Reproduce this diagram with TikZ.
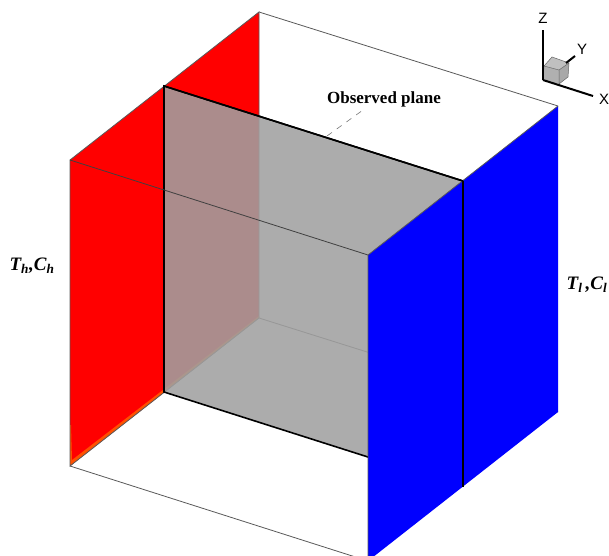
\documentclass[tikz,border=0pt]{standalone}
\usepackage{xcolor}
\usepackage{fontspec}
\setmainfont{Liberation Serif}
\setsansfont{Liberation Sans}
\usetikzlibrary{positioning}
\definecolor{wallhot}{RGB}{255,0,0}
\definecolor{wallcold}{RGB}{0,0,255}
\definecolor{wallband}{RGB}{255,80,0}
\definecolor{planegray}{RGB}{160,160,160}
\definecolor{cubetop}{RGB}{192,192,192}
\definecolor{cubeleft}{RGB}{176,176,176}
\definecolor{cuberight}{RGB}{168,168,168}

\begin{document}
\begin{tikzpicture}[
    x=1pt, y=-1pt,
    wire/.style={draw=black!65, line width=0.8pt},
    planeline/.style={draw=black, line width=1.6pt},
    leader/.style={draw=black!55, line width=0.6pt, dash pattern=on 6pt off 6pt},
    axis/.style={draw=black, line width=2pt},
    axislabel/.style={font=\sffamily\fontsize{15}{15}\selectfont, inner sep=0pt},
    walllabel/.style={font=\bfseries\itshape\fontsize{19}{19}\selectfont, inner sep=0pt}
]
\clip (0,0) rectangle (609,555);

% Cube corners
\coordinate (ftl) at (70,160);
\coordinate (btl) at (259,12);
\coordinate (bbl) at (259,318);
\coordinate (fbl) at (70,466);
\coordinate (ftr) at (368,255);
\coordinate (btr) at (558,106);
\coordinate (bbr) at (558,412);
\coordinate (fbr) at (368,561);

% Plane corners
\coordinate (ptl) at (164,86);
\coordinate (ptr) at (463,181);
\coordinate (pbr) at (463,487);
\coordinate (pbl) at (164,392);
\coordinate (pfb) at (368,457);
\coordinate (pmark) at (327,136);

% Hot wall
\fill[wallhot] (ftl) -- (btl) -- (bbl) -- (fbl) -- cycle;
\fill[wallband] (fbl) -- (bbl) -- (259,316) -- (72,460) -- (71,425) -- (70,425) -- cycle;

% Wire frame
\draw[wire] (fbl) -- (ftl) -- (btl) -- (bbl) -- cycle;
\draw[wire] (btl) -- (btr);
\draw[wire] (bbl) -- (bbr);
\draw[wire] (fbl) -- (fbr);

% Observed plane
\fill[planegray, fill opacity=0.88] (ptl) -- (ptr) -- (pbr) -- (pbl) -- cycle;
\draw[planeline] (ptr) -- (ptl) -- (pbl) -- (pfb);
\draw[wire, draw=black!75] (ftl) -- (ftr);

% Cold wall
\fill[wallcold] (ftr) -- (btr) -- (bbr) -- (fbr) -- cycle;
\draw[wire] (fbr) -- (ftr) -- (btr);
\draw[planeline] (ptr) -- (pbr);
\draw[planeline] (ptl) -- (ptr);

% Labels
\node[font=\bfseries\fontsize{17}{17}\selectfont, inner sep=0pt] (planelabel) at (384,99) {Observed plane};
\draw[leader] (pmark) -- (363,110);
\node[walllabel] (hotlabel) at (32,266) {T\textsubscript{h},C\textsubscript{h}};
\node[walllabel] (coldlabel) at (587,285) {T\textsubscript{l}\,,C\textsubscript{l}};

% Axis triad
\coordinate (origin) at (543,80);
\coordinate (zend) at (543,30);
\coordinate (xend) at (593,96);
\coordinate (ystart) at (566,63);
\coordinate (yend) at (575,56);
\fill[cubetop] (544,66) -- (552,57) -- (569,63) -- (559,70) -- cycle;
\fill[cubeleft] (544,66) -- (559,70) -- (559,84) -- (origin) -- cycle;
\fill[cuberight] (559,70) -- (569,63) -- (568,77) -- (559,84) -- cycle;
\draw[draw=black!60, line width=0.5pt] (544,66) -- (552,57) -- (569,63) -- (568,77) -- (559,84) -- (559,70) -- cycle (559,70) -- (569,63) (544,66) -- (origin);
\draw[axis] (origin) -- (zend);
\draw[axis] (origin) -- (xend);
\draw[axis] (ystart) -- (yend);
\node[axislabel] (zlabel) at (543,18) {Z};
\node[axislabel] (ylabel) at (582,49) {Y};
\node[axislabel] (xlabel) at (604,99) {X};

\end{tikzpicture}
\end{document}
